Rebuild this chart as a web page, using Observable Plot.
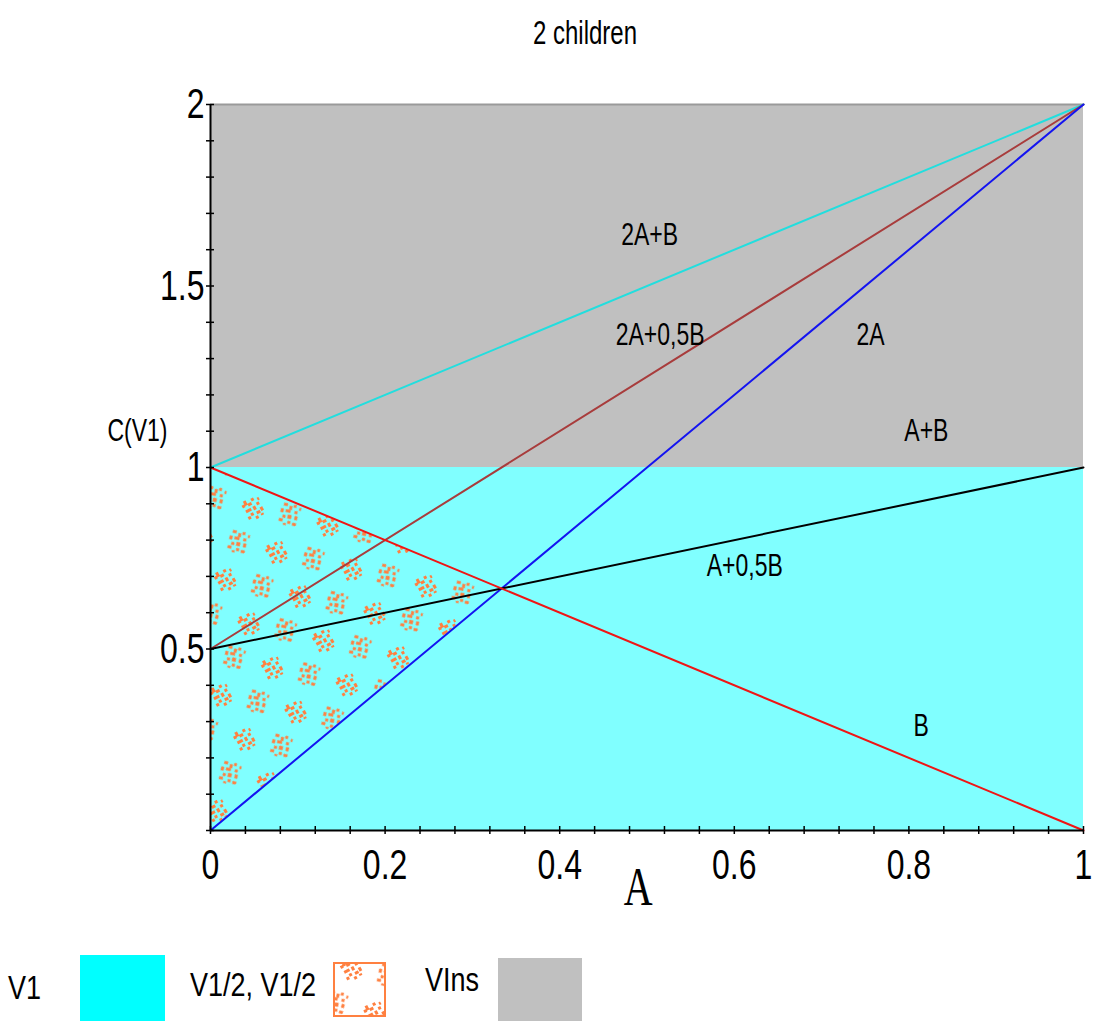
<!DOCTYPE html>
<html><head><meta charset="utf-8">
<script src="https://cdn.jsdelivr.net/npm/d3@7"></script>
<script src="https://cdn.jsdelivr.net/npm/@observablehq/plot@0.6"></script>
<style>
body{margin:0;background:#fff;font-family:"Liberation Sans",Arial,sans-serif;color:#000;}
#title{height:60px;position:relative;}
#title span{position:absolute;left:585px;top:33px;transform:translate(-50%,-50%) scaleY(1.4);font-size:24px;white-space:nowrap;}
#legend{position:relative;height:91px;overflow:hidden;}
#legend .t{position:absolute;font-size:27px;white-space:nowrap;transform:translateY(-50%) scaleY(1.25);}
#legend .sw{position:absolute;}
#defs{position:absolute;width:0;height:0;}
</style></head>
<body>
<svg id="defs" width="0" height="0"><defs></defs></svg>
<div id="title"><span>2 children</span></div>
<div id="chart"></div>
<div id="legend"></div>
<script>
// ---- data ----
const lineNames = ["2A+B", "2A+0,5B", "2A", "A+0,5B", "B"];
const lineAtA0  = [1, 0.5, 0, 0.5, 1];
const lineAtA1  = [2, 2, 2, 1, 0];

const regionNames = ["V1", "VIns"];
const regionAFrom = [0, 0];
const regionATo   = [1, 1];
const regionLow   = [0, 1];
const regionHigh  = [1, 2];

const halfA    = [0, 0.333];
const halfLow  = [0, 0.667];
const halfHigh = [1, 0.667];

const labelText = ["2A+B", "2A+0,5B", "2A", "A+B", "A+0,5B", "B"];
const labelA    = [0.503, 0.515, 0.756, 0.82, 0.612, 0.814];
const labelC    = [1.64, 1.365, 1.365, 1.10, 0.728, 0.288];

const xTickLabels = [0, 0.2, 0.4, 0.6, 0.8, 1];
const xMinorTicks = [0,0.04,0.08,0.12,0.16,0.2,0.24,0.28,0.32,0.36,0.4,0.44,0.48,0.52,0.56,0.6,0.64,0.68,0.72,0.76,0.8,0.84,0.88,0.92,0.96,1];
const yTickLabels = [0.5, 1, 1.5, 2];
const yMinorTicks = [0,0.1,0.2,0.3,0.4,0.5,0.6,0.7,0.8,0.9,1,1.1,1.2,1.3,1.4,1.5,1.6,1.7,1.8,1.9,2];

const yAxisTitle = "C(V1)", yAxisTitleC = 1.1;
const xAxisTitle = "A", xAxisTitleA = 0.49;

// ---- styles ----
const lineColors = {"2A+B": "#22dede", "2A+0,5B": "#a83c3c", "2A": "#1414f0", "A+0,5B": "#000000", "B": "#f01414"};
const regionColors = {"V1": "#80ffff", "VIns": "#c0c0c0"};
const orange = "#ff8040";
const font = '"Liberation Sans",Arial,sans-serif';

// ---- orange speckle pattern (texture) ----
const blobA = [[0,3,3,3],[3,0,3,5],[6,4,4,3],[11,1,3,3],[1,9,6,3],[9,9,3,4],[14,7,3,3],[4,14,3,3],[10,15,4,3],[0,16,3,3],[15,13,3,4],[7,19,3,3],[13,19,3,2],[17,3,2,3]];
const blobB = [[2,0,4,3],[8,2,3,4],[12,0,3,3],[0,6,3,4],[5,6,5,3],[14,6,3,3],[3,12,3,3],[8,11,4,4],[15,11,3,4],[0,16,4,3],[9,17,3,3],[14,18,4,3],[18,2,2,3],[5,20,3,2]];
const defs = d3.select("#defs defs");
const pat = defs.append("pattern").attr("id", "speckle").attr("patternUnits", "userSpaceOnUse")
  .attr("width", 58).attr("height", 50).attr("patternTransform", "rotate(-28)");
pat.append("g").attr("transform", "translate(4,4)").selectAll("rect").data(blobA).join("rect")
  .attr("x", d => d[0]).attr("y", d => d[1]).attr("width", d => d[2]).attr("height", d => d[3]).attr("fill", orange);
pat.append("g").attr("transform", "translate(33,27) rotate(40,10,10)").selectAll("rect").data(blobB).join("rect")
  .attr("x", d => d[0]).attr("y", d => d[1]).attr("width", d => d[2]).attr("height", d => d[3]).attr("fill", orange);

// ---- tables ----
const regions = regionNames.map((name, i) => ({name, a0: regionAFrom[i], a1: regionATo[i], lo: regionLow[i], hi: regionHigh[i]}));
const half = halfA.map((a, i) => ({A: a, lo: halfLow[i], hi: halfHigh[i]}));
const labels = labelText.map((t, i) => ({t, A: labelA[i], C: labelC[i]}));
const yTitleRow = [{t: yAxisTitle, A: 0, C: yAxisTitleC}];
const xTitleRow = [{t: xAxisTitle, A: xAxisTitleA}];

const lineMarks = lineNames.map((name, i) =>
  Plot.line([{A: 0, C: lineAtA0[i]}, {A: 1, C: lineAtA1[i]}],
    {x: "A", y: "C", stroke: lineColors[name], strokeWidth: 2}));

const chart = Plot.plot({
  width: 1094, height: 870,
  marginTop: 44, marginBottom: 100, marginLeft: 210, marginRight: 11,
  x: {domain: [0, 1]},
  y: {domain: [0, 2]},
  style: {fontFamily: font, color: "black", background: "white", overflow: "visible"},
  marks: [
    ...regions.map(r => Plot.rect([r], {x1: "a0", x2: "a1", y1: "lo", y2: "hi", fill: regionColors[r.name]})),
    Plot.ruleY([2], {stroke: "#9a9a9a", strokeWidth: 2}),
    Plot.areaY(half, {x: "A", y1: "lo", y2: "hi", fill: "url(#speckle)"}),
    ...lineMarks,
    Plot.ruleY([0], {stroke: "black", strokeWidth: 2}),
    Plot.ruleX([0], {stroke: "black", strokeWidth: 2}),
    Plot.axisX({ticks: xMinorTicks, tickSize: 8, dy: -4, tickFormat: () => "", label: null, strokeWidth: 1.5}),
    Plot.axisX({ticks: xTickLabels, tickSize: 0, tickPadding: 18, fontSize: 32, tickFormat: d => String(d), label: null}),
    Plot.axisY({ticks: yMinorTicks, tickSize: 8, dx: 4, tickFormat: () => "", label: null, strokeWidth: 1.5}),
    Plot.axisY({ticks: yTickLabels, tickSize: 0, tickPadding: 6, fontSize: 32, tickFormat: d => String(d), label: null}),
    Plot.text(labels, {x: "A", y: "C", text: "t", fontSize: 23, fill: "black"}),
    Plot.text(yTitleRow, {x: "A", y: "C", text: "t", dx: -73, fontSize: 23, fill: "black"}),
    Plot.text(xTitleRow, {x: "A", text: "t", frameAnchor: "bottom", dy: 74, fontSize: 40,
      fontFamily: '"Liberation Serif","Times New Roman",serif', fill: "black"})
  ]
});
// stretch every text vertically about its own anchor (the reference glyphs are tall and narrow)
d3.select(chart).selectAll("text").each(function() {
  const t = this.getAttribute("transform") || "";
  this.setAttribute("transform", `${t} scale(1,1.35)`);
});
document.getElementById("chart").appendChild(chart);

// ---- legend ----
const legendItems = [
  {label: "V1", kind: "V1"},
  {label: "V1/2, V1/2", kind: "half"},
  {label: "VIns", kind: "VIns"}
];
const legendLayout = {
  "V1":   {tx: 8,   ty: 58, sx: 80,  sy: 25, sw: 85, sh: 70},
  "half": {tx: 190, ty: 55, sx: 333, sy: 32, sw: 53, sh: 55},
  "VIns": {tx: 425, ty: 50, sx: 498, sy: 28, sw: 84, sh: 70}
};
const legend = document.getElementById("legend");
legendItems.forEach(item => {
  const L = legendLayout[item.kind];
  const t = document.createElement("div");
  t.className = "t"; t.textContent = item.label;
  t.style.left = L.tx + "px"; t.style.top = L.ty + "px";
  legend.appendChild(t);
  const s = d3.create("svg").attr("class", "sw").attr("width", L.sw).attr("height", L.sh)
    .style("left", L.sx + "px").style("top", L.sy + "px");
  if (item.kind === "half") {
    s.append("rect").attr("x", 1).attr("y", 1).attr("width", L.sw - 2).attr("height", L.sh - 2)
      .attr("fill", "url(#speckle)").attr("stroke", orange).attr("stroke-width", 2);
  } else {
    s.append("rect").attr("width", L.sw).attr("height", L.sh)
      .attr("fill", item.kind === "V1" ? "#00ffff" : "#c0c0c0");
  }
  legend.appendChild(s.node());
});
</script>
</body></html>
